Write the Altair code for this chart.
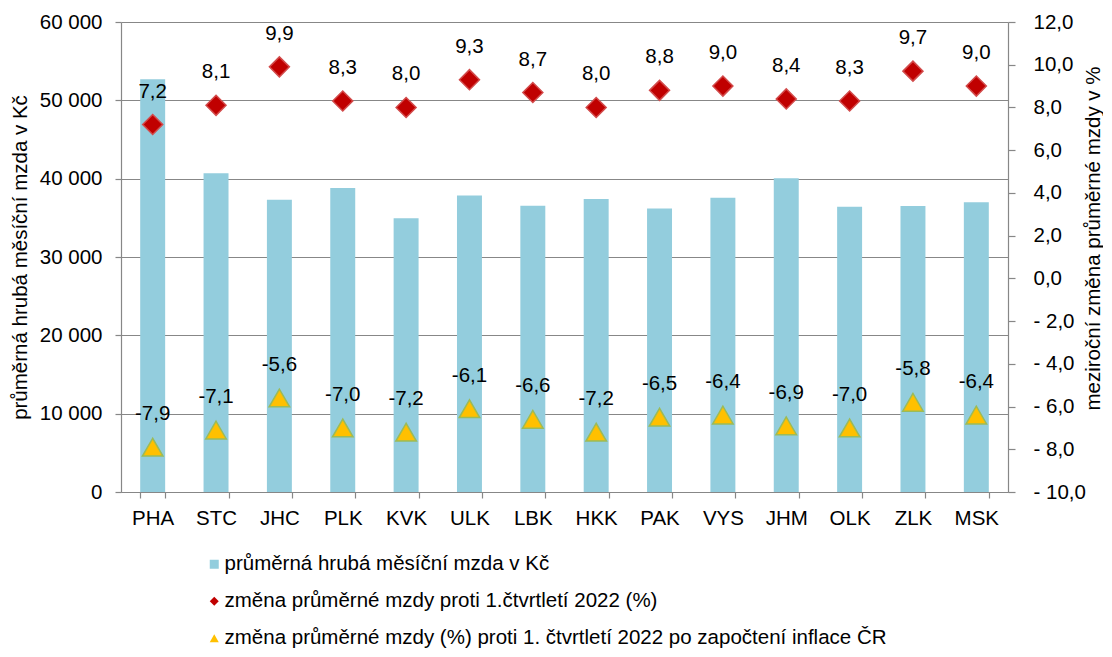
import altair as alt
import pandas as pd

# ---- data ----
kraje = ["PHA", "STC", "JHC", "PLK", "KVK", "ULK", "LBK", "HKK", "PAK", "VYS", "JHM", "OLK", "ZLK", "MSK"]
mzda = [52700, 40700, 37300, 38800, 34950, 37850, 36550, 37400, 36200, 37550, 40050, 36400, 36500, 37000]
zmena = [7.2, 8.1, 9.9, 8.3, 8.0, 9.3, 8.7, 8.0, 8.8, 9.0, 8.4, 8.3, 9.7, 9.0]
realna = [-7.9, -7.1, -5.6, -7.0, -7.2, -6.1, -6.6, -7.2, -6.5, -6.4, -6.9, -7.0, -5.8, -6.4]

serie = [
    "průměrná hrubá měsíční mzda v Kč",
    "změna průměrné mzdy proti 1.čtvrtletí 2022 (%)",
    "změna průměrné mzdy (%) proti 1. čtvrtletí 2022 po započtení inflace ČR",
]
left_ticks = [0, 10000, 20000, 30000, 40000, 50000, 60000]
right_ticks = [-10, -8, -6, -4, -2, 0, 2, 4, 6, 8, 10, 12]

left_title = "průměrná hrubá měsíční mzda v Kč"
right_title = "meziroční změna průměrné mzdy v %"

df = pd.DataFrame({"kraj": kraje, "mzda": mzda, "zmena": zmena, "realna": realna})

FONT = "Liberation Sans"
FS = 20.5
GRID = "#878787"

color_scale = alt.Scale(domain=serie, range=["#93CDDD", "#C00000", "#FFC000"])
shape_scale = alt.Scale(domain=serie, range=["square", "diamond", "triangle-up"])
legend = alt.Legend(title=None, orient="none", legendX=83, legendY=532, direction="vertical")

x = alt.X(
    "kraj:N", sort=kraje, title=None,
    scale=alt.Scale(paddingInner=0.606, paddingOuter=0.303),
    axis=alt.Axis(labelAngle=0, tickBand="extent", labelPadding=10, tickSize=6, grid=False),
)

y_left = alt.Y(
    "mzda:Q", scale=alt.Scale(domain=[0, 60000], nice=False),
    axis=alt.Axis(
        values=left_ticks, grid=True, tickSize=6, labelPadding=13,
        labelExpr="replace(format(datum.value, ',d'), ',', ' ')",
        title=left_title, titleAngle=270, titleX=-101, titleY=235,
        titleBaseline="middle", titleAlign="center",
    ),
)

y_right = alt.Y(
    "pct:Q", scale=alt.Scale(domain=[-10, 12], nice=False),
    axis=alt.Axis(
        orient="right", values=right_ticks, grid=False, tickSize=7, labelPadding=18,
        labelAlign="left",
        labelExpr="datum.value < 0 ? '- ' + replace(format(-datum.value, '.1f'), '.', ',') : replace(format(datum.value, '.1f'), '.', ',')",
        title=right_title, titleAngle=270, titleX=85, titleY=216,
        titleBaseline="middle", titleAlign="center",
    ),
)

base = alt.Chart(df)

bars = base.transform_calculate(series="'" + serie[0] + "'").mark_bar().encode(
    x=x, y=y_left,
    color=alt.Color("series:N", scale=color_scale, legend=legend),
)

folded = base.transform_fold(["zmena", "realna"], as_=["key", "pct"]).transform_calculate(
    series="datum.key == 'zmena' ? '" + serie[1] + "' : '" + serie[2] + "'"
)

pts = folded.mark_point(filled=True, opacity=1, strokeWidth=1.5).encode(
    x=x, y=y_right,
    color=alt.Color("series:N", scale=color_scale, legend=legend),
    shape=alt.Shape("series:N", scale=shape_scale, legend=legend),
    stroke=alt.Stroke("key:N", scale=alt.Scale(domain=["zmena", "realna"], range=["#D24B4B", "#9BBB59"]), legend=None),
    size=alt.Size("key:N", scale=alt.Scale(domain=["zmena", "realna"], range=[400, 420]), legend=None),
)

txt = folded.transform_calculate(
    lbl="(datum.pct < 0 ? '-' : '') + replace(format(abs(datum.pct), '.1f'), '.', ',')"
).mark_text(dy=-33, fontSize=FS, font=FONT, color="black").encode(
    x=x, y=y_right, text="lbl:N",
)

chart = alt.layer(bars, alt.layer(pts, txt)).resolve_scale(y="independent").properties(
    width=887, height=470,
    autosize=alt.AutoSizeParams(type="none"),
    padding={"left": 113, "top": 14, "right": 95, "bottom": 157},
).configure(font=FONT).configure_view(stroke=None).configure_axis(
    labelFont=FONT, titleFont=FONT, labelFontSize=FS, titleFontSize=FS,
    titleFontWeight="normal", labelColor="black", titleColor="black",
    domainColor=GRID, tickColor=GRID, gridColor=GRID, gridOpacity=1,
    domainWidth=1.2, gridWidth=1.2, tickWidth=1.2,
).configure_legend(
    labelFont=FONT, labelFontSize=FS, labelColor="black", labelLimit=1000,
    symbolSize=81, rowPadding=16, labelOffset=0, padding=0, symbolStrokeWidth=0,
)

chart.save("out.html", embed_options={"renderer": "svg", "actions": False})
